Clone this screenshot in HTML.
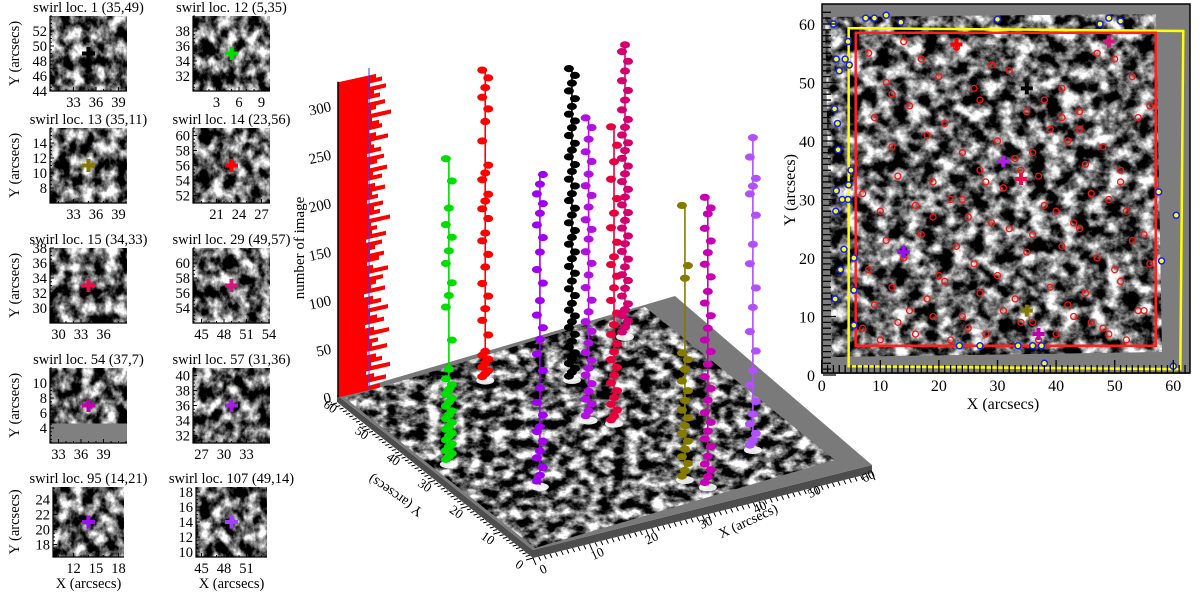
<!DOCTYPE html>
<html><head><meta charset="utf-8">
<style>
html,body{margin:0;padding:0;background:#fff;}
svg{display:block;font-family:"Liberation Serif",serif;}
</style></head>
<body>
<svg id="fig" width="1200" height="597" viewBox="0 0 1200 597" xmlns="http://www.w3.org/2000/svg">
<defs id="defs"></defs>
</svg>
<script>
// ---------- DATA ----------
const thumbIds = [1,12,13,14,15,29,54,57,95,107];
const thumbLocX = [35,5,35,23,34,49,37,31,14,49];
const thumbLocY = [49,35,11,56,33,57,7,36,21,14];
const thumbColors = ['#000000','#00dd00','#857a00','#ff0000','#e8104a','#d0187a','#c000b0','#a020e0','#9a10f0','#a040ff'];
const thumbXTicks = [[33,36,39],[3,6,9],[33,36,39],[21,24,27],[30,33,36],[45,48,51,54],[33,36,39],[27,30,33],[12,15,18],[45,48,51]];
const thumbYTicks = [[44,46,48,50,52],[32,34,36,38],[8,10,12,14],[52,54,56,58,60],[30,32,34,36,38],[54,56,58,60],[4,6,8,10],[32,34,36,38,40],[18,20,22,24],[10,12,14,16,18]];

const histCounts = [42,30,48,36,28,52,33,44,38,29,49,34,40,31,51,36,27,46,39,32,50,30,43,35,26,47,33,38,45,31,50,35,29,41,46,32,37,44,28,48,34,39,33,52,31,42,36,45,29,40,34,47,37,30,44,35,49,32,39,46,29,43,36,33,50,38,31,44,41,34,53,33,38,47,30,42,36,48,32,44,38];
const zTicks = [0,50,100,150,200,250,300];

const stemX = [5,23,14,35,31,34,49,35,37,49];
const stemY = [35,56,21,49,36,33,57,11,7,14];
const stemColors = ['#00dd00','#ff0000','#a000f0','#000000','#b010e0','#e8003c','#d4006e','#857a00','#c800b4','#b050ff'];
const stemGreen  = [3,6,9,12,16,19,23,27,30,34,37,41,45,49,53,58,62,66,70,75,80,86,96,126,160,172,185,205,218,232,245,262,290,313];
const stemRed    = [2,5,8,12,16,20,24,28,45,60,72,85,98,115,128,142,150,165,175,183,190,205,212,220,245,265,278,290,300,310,318];
const stemPurple = [4,10,18,28,35,45,55,60,72,85,100,118,135,150,162,175,190,208,222,240,255,268,280,290,300,310,320];
const stemBlack  = [2,6,10,15,20,26,32,38,45,52,58,64,70,77,85,92,100,108,115,123,130,138,145,152,160,168,175,183,190,198,205,213,220,228,235,242,250,258,265,272,280,288,296,304,312,319];
const stemPurple2= [3,8,15,20,28,36,45,52,60,68,78,90,100,110,122,135,148,160,172,185,195,205,218,230,240,252,265,275,288,300,310];
const stemCrimson= [2,6,12,18,25,32,40,48,56,64,72,80,90,100,112,125,138,150,162,170,185,200,215,230,250,268,285,304];
const stemPink   = [3,8,14,20,26,32,40,48,56,62,70,78,86,94,102,110,118,126,134,142,150,158,166,174,182,190,198,206,214,222,232,242,252,262,272,282,292,299];
const stemOlive  = [2,8,15,22,30,38,46,54,62,70,80,90,100,112,122,129,206,219,281];
const stemMagenta= [3,9,16,22,30,40,48,56,65,75,88,100,112,125,138,150,162,175,188,200,215,228,240,252,265,280,286,297];
const stemViolet = [3,8,15,25,35,48,65,80,100,120,145,165,190,210,240,262,270,278,300,320];
const stemSeries = [stemGreen,stemRed,stemPurple,stemBlack,stemPurple2,stemCrimson,stemPink,stemOlive,stemMagenta,stemViolet];

const floorTicks = [0,10,20,30,40,50,60];

const swirlX = [8,11,14,17,20,23,26,29,32,35,38,41,44,47,50,53,56,9,12,15,18,21,24,27,30,33,36,39,42,45,48,51,54,7,10,13,16,19,22,25,28,31,34,37,40,43,46,49,52,55,8,11,14,17,20,23,26,29,32,35,38,41,44,47,50,53,56,9,12,15,18,21,24,27,30,33,36,39,42,45,48,51,54,7,10,13,16,19,22,25,28,31,34,37,40,43,46,49,52,55,12,27,44,19,36,51,24,41];
const swirlY = [55,50,57,54,51,56,49,53,52,45,47,44,42,55,54,51,46,44,39,46,41,43,38,35,40,37,38,42,40,36,39,35,44,31,28,34,29,33,30,27,33,32,35,34,28,26,31,30,28,24,18,23,20,24,17,22,19,26,25,21,29,22,25,20,18,23,19,12,15,11,13,16,10,14,17,13,9,15,12,14,8,16,11,8,6,9,7,10,6,8,7,11,9,6,7,10,9,7,6,11,48,47,45,27,24,33,30,49];
const edgeX = [2,2.5,4,3,2.2,2.7,2.8,2.5,3.5,4.5,5,3.8,2.4,3.2,4.6,5.5,2.3,5.5,7.5,9,11,13.5,23.5,27,30,33.5,36,37.5,38,47.5,49,51,57.5,60.5,58,60,4.5,5.5,4.7];
const edgeY = [60,54,54,52,45.5,43,38.5,31.5,30,30,35,21.5,28,18,32.5,20,13,14.5,61,61,61.5,60.3,5,5,60.8,5,5,5,2,60,61,60.5,31.3,27.3,19.5,1.5,57,8.5,53];
const crossX = [35,23,49,31,34,14,35,37];
const crossY = [49,56.5,57,36.5,33.5,21,11,7];
const crossColors = ['#000000','#ff0000','#d0187a','#b020e0','#e8104a','#9a10f0','#857a00','#c000b0'];
const rpTicks = [0,10,20,30,40,50,60];

// ---------- helpers ----------
const NS = 'http://www.w3.org/2000/svg';
const svg = document.getElementById('fig');
const defs = document.getElementById('defs');
function mk(tag, attrs, parent){
  const e = document.createElementNS(NS, tag);
  for (const k in attrs) e.setAttribute(k, attrs[k]);
  (parent||svg).appendChild(e);
  return e;
}
function makeTexture(id, x, y, w, h, freq, seed){
  const f = mk('filter', {id:id, filterUnits:'userSpaceOnUse', x:x, y:y, width:w, height:h, 'color-interpolation-filters':'sRGB'}, defs);
  mk('feTurbulence', {type:'fractalNoise', baseFrequency:freq, numOctaves:5, seed:seed}, f);
  mk('feColorMatrix', {type:'matrix', values:'2.7 0 0 0 -0.95  2.7 0 0 0 -0.95  2.7 0 0 0 -0.95  0 0 0 0 1'}, f);
}
function cross(g, cx, cy, col, s){
  return mk('path', {d:`M${cx-s},${cy}H${cx+s}M${cx},${cy-s}V${cy+s}`, stroke:col, 'stroke-width':4, fill:'none'}, g);
}

// ---------- thumbnails ----------
const colX = [50,193];
const rowY = [16,128,248,368,487];
const TW = 77, TH = 75, PPU = 7.5;
thumbIds.forEach((id, i) => {
  const col = i % 2, row = Math.floor(i / 2);
  const x0 = colX[col], y0 = rowY[row];
  const h = row === 4 ? 70 : TH, w = row === 4 ? 71 : TW;
  const xs = x0 + (row === 4 ? 3 : 0);
  const g = mk('g', {});
  
  
  makeTexture('tex' + i, xs, y0, w, h, '0.085 0.07', 3 + i * 7);
  const img = mk('rect', {x:xs, y:y0, width:w, height:h, fill:'#888', filter:`url(#tex${i})`}, g);
  
  
  const cxp = xs + w / 2, cyp = y0 + h / 2;
  const toX = v => cxp + (v - thumbLocX[i]) * PPU;
  const toY = v => cyp - (v - thumbLocY[i]) * PPU;
  if (id === 54) {
    const band = mk('rect', {x:xs, y:toY(4.6), width:w, height:y0 + h - toY(4.6), fill:'#808080'}, g);
    
    
  }
  const cr = cross(g, cxp, cyp, thumbColors[i], 6.5);
  
  
  const ax = mk('path', {d:`M${xs},${y0}V${y0+h}H${xs+w}`, stroke:'#000', 'stroke-width':1.2, fill:'none'}, g);
  
  
  let tk = '';
  for (let v = Math.ceil(thumbLocX[i] - 5); v <= thumbLocX[i] + 5; v++) { const px = toX(v); if (px >= xs && px <= xs + w) tk += `M${px},${y0+h}v${thumbXTicks[i].includes(v)?-4:-2}`; }
  for (let v = Math.ceil(thumbLocY[i] - 5); v <= thumbLocY[i] + 5; v += 0.5) { const py = toY(v); if (py >= y0 && py <= y0 + h) tk += `M${xs},${py}h${thumbYTicks[i].includes(v)?4:2}`; }
  const tks = mk('path', {d:tk, stroke:'#000', 'stroke-width':1, fill:'none'}, g);
  
  
  const t = mk('text', {x:cxp, y:y0 - 4, 'font-size':14.5, 'text-anchor':'middle'}, g);
  t.textContent = `swirl loc. ${id} (${thumbLocX[i]},${thumbLocY[i]})`;
  
  
  thumbXTicks[i].forEach(v => {
    const l = mk('text', {x:toX(v), y:y0 + h + 16, 'font-size':14.5, 'text-anchor':'middle'}, g);
    l.textContent = v;
    
    
  });
  thumbYTicks[i].forEach(v => {
    const l = mk('text', {x:xs - 3, y:toY(v) + 5, 'font-size':14.5, 'text-anchor':'end'}, g);
    l.textContent = v;
    
    
  });
  if (col === 0) {
    const yl = mk('text', {x:0, y:0, 'font-size':14.5, 'text-anchor':'middle', transform:`translate(19,${cyp}) rotate(-90)`}, g);
    yl.textContent = 'Y (arcsecs)';
    
    
  }
  if (row === 4) {
    const xl = mk('text', {x:cxp, y:y0 + h + 31, 'font-size':14.5, 'text-anchor':'middle'}, g);
    xl.textContent = 'X (arcsecs)';
    
    
  }
});

// ---------- 3D plot ----------
const g3 = mk('g', {});


const FL = [533,550], FR = [872,465], BR = [675,296], BL = [337,395];
const slab = mk('polygon', {points:`${BL[0]},${BL[1]} ${FL[0]},${FL[1]} ${FR[0]},${FR[1]} ${FR[0]},${FR[1]+8} ${FL[0]},${FL[1]+8} ${BL[0]},${BL[1]+7}`, fill:'#4d4d4d'}, g3);


const floor = mk('polygon', {points:`${BL} ${BR} ${FR} ${FL}`, fill:'#7a7a7a'}, g3);


const cp = mk('clipPath', {id:'floorClip'}, defs);
mk('polygon', {points:'345,398 645,307 835,460 535,548'}, cp);
makeTexture('texFloor', 330, 290, 520, 270, '0.075 0.1', 11);
const fg = mk('g', {'clip-path':'url(#floorClip)'}, g3);
const fimg = mk('rect', {x:330, y:290, width:520, height:270, fill:'#888', filter:'url(#texFloor)'}, fg);



let ft = '';
for (let v = 0; v <= 60; v++) {
  const a = v / 60;
  const px = FL[0] + a * (FR[0] - FL[0]), py = FL[1] + 8 + a * (FR[1] - FL[1]);
  ft += `M${px},${py}l${v%10?2:3},${v%10?4:7}`;
  const qx = FL[0] + a * (BL[0] - FL[0]) , qy = FL[1] + 8 + a * (BL[1] - FL[1]);
  ft += `M${qx},${qy}l${v%10?-4:-7},${v%10?1:2}`;
}
const fta = mk('path', {d:ft, stroke:'#000', 'stroke-width':1, fill:'none'}, g3);


floorTicks.forEach(v => {
  const a = v / 60;
  const px = 545 + a * (870 - 545), py = 573 + a * (480 - 573);
  const l = mk('text', {x:0, y:0, 'font-size':13, 'text-anchor':'middle', transform:`translate(${px},${py}) rotate(-25)`}, g3);
  l.textContent = v;
  
  
  const qx = 517 + a * (328 - 517), qy = 568 + a * (410 - 568);
  const m = mk('text', {x:0, y:0, 'font-size':13, 'text-anchor':'middle', transform:`translate(${qx},${qy}) rotate(35)`}, g3);
  m.textContent = v;
  
  
});
const xt3 = mk('text', {x:0, y:0, 'font-size':14, 'text-anchor':'middle', transform:'translate(750,525) rotate(-25)'}, g3);
xt3.textContent = 'X (arcsecs)';


const yt3 = mk('text', {x:0, y:0, 'font-size':14, 'text-anchor':'middle', transform:'translate(398,492) rotate(215)'}, g3);
yt3.textContent = 'Y (arcsecs)';



// z axis
const Z0 = 397, ZS = 0.97, ZX = 338;
const zScale = v => Z0 - v * ZS;
zTicks.forEach(v => {
  const l = mk('text', {x:0, y:0, 'font-size':15, 'text-anchor':'end', transform:`translate(332,${zScale(v)+5}) rotate(-12)`}, g3);
  l.textContent = v;
  
  
});
const zt = mk('text', {x:0, y:0, 'font-size':15, 'text-anchor':'middle', transform:'translate(304,248) rotate(-90)'}, g3);
zt.textContent = 'number of image';


const hg = mk('g', {}, g3);


histCounts.forEach((c, i) => {
  const y = zScale(i * 4 + 4);
  const b = mk('path', {d:`M${ZX},${y - 0.5}L${ZX + c},${y - 0.5 - c * 0.22}L${ZX + c},${y + 3.6 - c * 0.22}L${ZX},${y + 4.4}Z`, fill:'#ff0000'}, hg);
  
  
});
const bl = mk('line', {x1:369, y1:zScale(0) - 7, x2:369, y2:zScale(332) - 7, stroke:'#3040ff', 'stroke-width':1}, hg);


const zax = mk('line', {x1:ZX, y1:zScale(0), x2:ZX, y2:zScale(325), stroke:'#000', 'stroke-width':1.5}, g3);



// stems
const O = [525.5, 562.3], EX = [5.49, -1.58], EY = [-2.974, -2.632];
const projX = (X, Y) => O[0] + X * EX[0] + Y * EY[0];
const projY = (X, Y) => O[1] + X * EX[1] + Y * EY[1];
stemSeries.forEach((pts, s) => {
  const bx = projX(stemX[s], stemY[s]), by = projY(stemX[s], stemY[s]);
  const sg = mk('g', {}, g3);
  
  
  const burst = mk('ellipse', {cx:bx, cy:by + 2, rx:9, ry:4, fill:'#fff', opacity:0.9}, sg);
  
  
  const top = Math.max(...pts);
  const ln = mk('line', {x1:bx, y1:by, x2:bx, y2:by - top * ZS, stroke:stemColors[s], 'stroke-width':1.6}, sg);
  
  
  pts.forEach((p, k) => {
    const dx = (k % 3 - 1) * 3;
    const e = mk('ellipse', {cx:bx + dx, cy:by - p * ZS, rx:5, ry:3.6, fill:stemColors[s]}, sg);
    
    
  });
});

// ---------- right panel ----------
const gr = mk('g', {});


const RX = v => 821.7 + v * 5.86, RY = v => 375 - v * 5.85;
const bg = mk('rect', {x:822, y:4, width:368, height:370, fill:'#7d7d7d'}, gr);


const cp2 = mk('clipPath', {id:'mapClip'}, defs);
mk('polygon', {points:'825,17 1156,14 1162,352 832,357'}, cp2);
makeTexture('texMap', 822, 10, 345, 350, '0.065 0.075', 29);
const mg = mk('g', {'clip-path':'url(#mapClip)'}, gr);
const mimg = mk('rect', {x:822, y:10, width:345, height:350, fill:'#888', filter:'url(#texMap)'}, mg);


const ysq = mk('polygon', {points:`${RX(4.6)},${RY(59.3)} ${RX(61.7)},${RY(58.8)} ${RX(61.2)},${RY(1)} ${RX(4.6)},${RY(1.5)}`, fill:'none', stroke:'#ffff00', 'stroke-width':2.5}, gr);


const rsq = mk('rect', {x:RX(5.8), y:RY(58.5), width:RX(57) - RX(5.8), height:RY(5) - RY(58.5), fill:'none', stroke:'#ff2020', 'stroke-width':2.5}, gr);


swirlX.forEach((x, i) => {
  const c = mk('circle', {cx:RX(x), cy:RY(swirlY[i]), r:3, fill:'none', stroke:'#ff1010', 'stroke-width':1.3}, gr);
  
  
});
edgeX.forEach((x, i) => {
  const c = mk('circle', {cx:RX(x), cy:RY(edgeY[i]), r:3, fill:'#ffff00', stroke:'#1020ff', 'stroke-width':1.5}, gr);
  
  
});
crossX.forEach((x, i) => {
  const c = cross(gr, RX(x), RY(crossY[i]), crossColors[i], 6);
  
  
});
let rt = '';
for (let v = 0; v <= 62; v++) {
  const L = v % 10 ? 8 : 13;
  rt += `M${RX(v)},373v${-L}M823,${RY(v)}h${L}`;
}
const rtk = mk('path', {d:rt, stroke:'#000', 'stroke-width':1.3, fill:'none'}, gr);


const frame = mk('rect', {x:822, y:4, width:368, height:369, fill:'none', stroke:'#000', 'stroke-width':1.5}, gr);


rpTicks.forEach(v => {
  const a = mk('text', {x:RX(v), y:391, 'font-size':16, 'text-anchor':'middle'}, gr);
  a.textContent = v;
  
  
  const b = mk('text', {x:815, y:RY(v) + 6, 'font-size':16, 'text-anchor':'end'}, gr);
  b.textContent = v;
  
  
});
const rxt = mk('text', {x:1003, y:409, 'font-size':16, 'text-anchor':'middle'}, gr);
rxt.textContent = 'X (arcsecs)';


const ryt = mk('text', {x:0, y:0, 'font-size':16, 'text-anchor':'middle', transform:'translate(795,190) rotate(-90)'}, gr);
ryt.textContent = 'Y (arcsecs)';


</script>
</body></html>
